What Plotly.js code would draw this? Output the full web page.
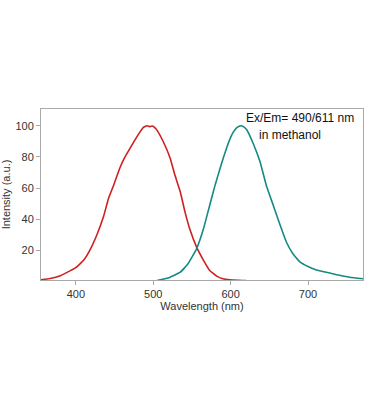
<!DOCTYPE html>
<html><head><meta charset="utf-8">
<script src="https://cdn.plot.ly/plotly-3.0.1.min.js"></script>
<style>html,body{margin:0;padding:0;background:#fff;}#chart{width:371px;height:418px;}</style>
</head><body><div id="chart"></div>
<script>
// Excitation spectrum (red)
const exWavelength = [355, 367, 380, 393, 400, 410, 418, 427, 436, 442, 449, 457, 463, 470, 479, 484, 487, 490, 492, 496, 499, 502, 505, 513, 522, 528, 535, 541, 547, 556, 565, 573, 582, 590, 599, 610, 620, 635];
const exIntensity  = [1.2, 2.0, 3.8, 7.0, 8.9, 13.6, 20, 29.7, 42, 53, 62, 73, 79.5, 85.5, 93, 96.8, 98.8, 99.6, 100, 99.4, 99.8, 98.8, 97, 89.7, 79, 68.3, 57.5, 44.7, 34, 22.1, 13.6, 7.1, 3.5, 1.8, 1.1, 0.8, 0.6, 0.5];
// Emission spectrum (teal)
const emWavelength = [505, 515, 522, 535, 545, 556, 565, 573, 580, 586, 591, 595, 600, 603, 608, 613, 617, 621, 629, 638, 646, 655, 664, 672, 680, 689, 700, 710, 719, 737, 754, 771];
const emIntensity  = [0.7, 1.8, 2.8, 6, 11.4, 21, 34, 49, 62, 72, 80, 86, 92.5, 95.5, 98.8, 100, 99.2, 97.2, 88.7, 76.8, 61.8, 49, 36.1, 25.4, 18.2, 12.8, 9.6, 7.6, 6.5, 4.4, 2.8, 1.8];
const xTicks = [400, 500, 600, 700];
const yTicks = [20, 40, 60, 80, 100];

const traces = [
  {x: exWavelength, y: exIntensity, mode: 'lines', line: {color: '#cf1f1f', width: 1.6, shape: 'spline', smoothing: 0.3}, hoverinfo: 'skip'},
  {x: emWavelength, y: emIntensity, mode: 'lines', line: {color: '#138a82', width: 1.6, shape: 'spline', smoothing: 0.3}, hoverinfo: 'skip'}
];

const layout = {
  width: 371, height: 418,
  margin: {l: 41, r: 7.5, t: 109, b: 138, pad: 0},
  paper_bgcolor: '#fff', plot_bgcolor: '#fff',
  showlegend: false,
  font: {family: 'Liberation Sans, Arial, sans-serif', size: 11, color: '#333'},
  xaxis: {
    range: [355, 771], tickvals: xTicks, ticktext: xTicks.map(String),
    showgrid: false, zeroline: false, showline: true, mirror: true, linecolor: '#aaa', linewidth: 1,
    ticks: 'outside', ticklen: 4, tickcolor: '#aaa',
    tickfont: {size: 11, color: '#333'},
    title: {text: 'Wavelength (nm)', font: {size: 11, color: '#333'}, standoff: 3}
  },
  yaxis: {
    range: [1, 110.7], tickvals: yTicks, ticktext: yTicks.map(String),
    showgrid: false, zeroline: false, showline: true, mirror: true, linecolor: '#aaa', linewidth: 1,
    ticks: 'outside', ticklen: 4, tickcolor: '#aaa',
    tickfont: {size: 11, color: '#333'},
    title: {text: 'Intensity (a.u.)', font: {size: 11, color: '#333'}, standoff: 8}
  },
  annotations: [
    {xref: 'paper', yref: 'paper', x: 0.803, y: 0.947, xanchor: 'center', yanchor: 'middle', showarrow: false,
     text: 'Ex/Em= 490/611 nm', font: {size: 12, color: '#111'}},
    {xref: 'paper', yref: 'paper', x: 0.774, y: 0.848, xanchor: 'center', yanchor: 'middle', showarrow: false,
     text: 'in methanol', font: {size: 12, color: '#111'}}
  ]
};

Plotly.newPlot('chart', traces, layout, {staticPlot: true, displayModeBar: false});
</script>
</body></html>
